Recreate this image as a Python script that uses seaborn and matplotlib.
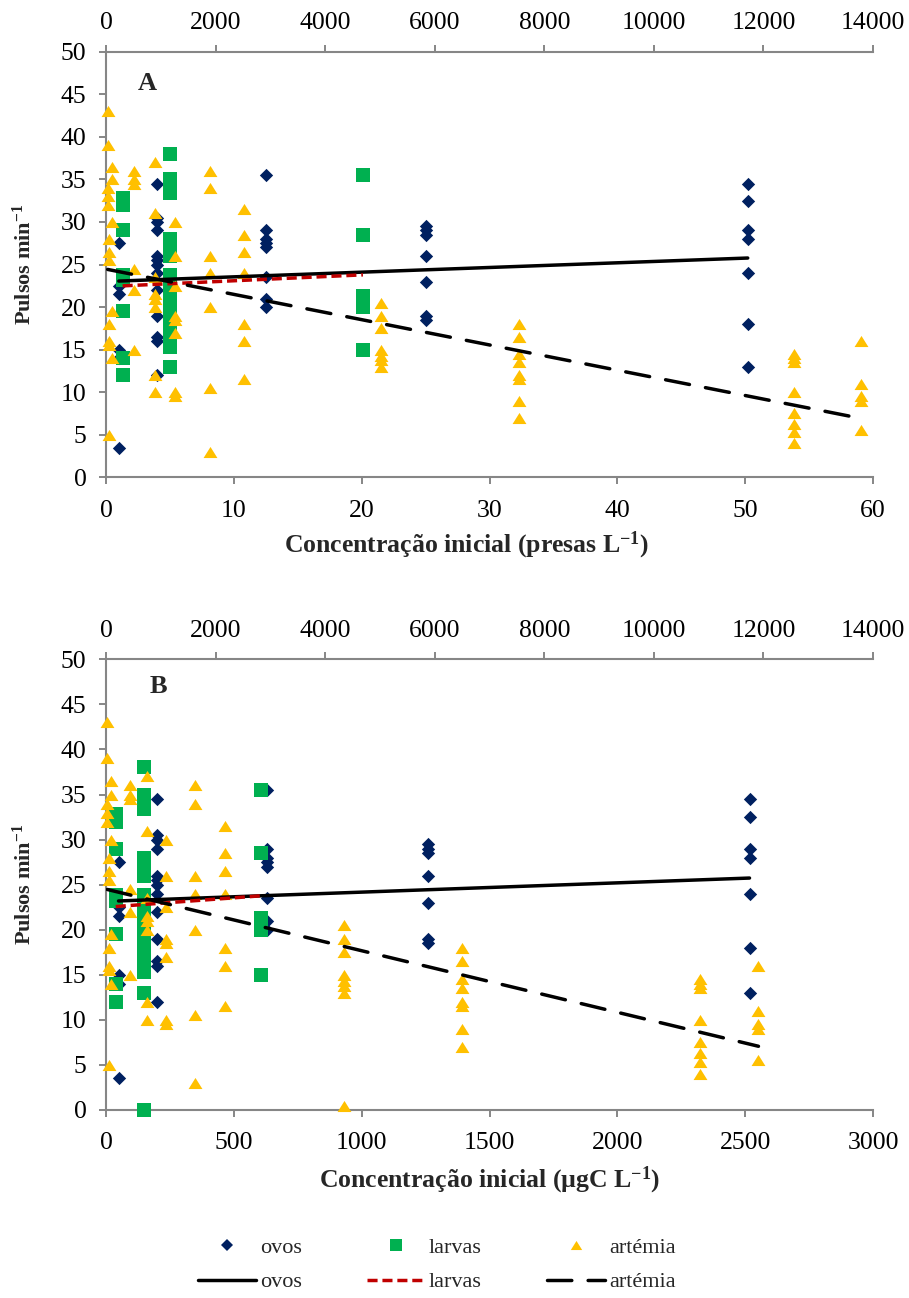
import numpy as np
import pandas as pd
import matplotlib
matplotlib.use("Agg")
import matplotlib.pyplot as plt
from matplotlib.lines import Line2D
import seaborn as sns

# ---------------------------------------------------------------- data
# Initial concentration levels: panel A in presas L-1, panel B in µgC L-1.
# Each level has a list of measured pulse rates (pulsos min-1).
ovos_conc_A = [1.0, 4.0, 12.5, 25.0, 50.2]
ovos_conc_B = [49, 200, 628, 1260, 2517]
ovos_pulses = [
    [27.5, 22.5, 21.5, 15.0, 14.0, 3.5],
    [34.5, 30.5, 30.0, 29.0, 26.0, 25.5, 25.0, 24.0, 22.0, 19.0, 16.5, 16.0, 12.0],
    [35.5, 29.0, 28.0, 27.5, 27.0, 23.5, 21.0, 20.0],
    [29.5, 29.0, 28.5, 26.0, 23.0, 19.0, 18.5],
    [34.5, 32.5, 29.0, 28.0, 24.0, 18.0, 13.0],
]

larvas_conc_A = [1.3, 5.0, 20.1]
larvas_conc_B = [38, 150, 605]
larvas_pulses = [
    [32.8, 32.0, 29.0, 23.8, 23.2, 19.5, 14.0, 12.0],
    [38.0, 35.0, 34.2, 33.4, 28.0, 27.0, 26.0, 23.8, 22.8, 21.8, 20.8,
     19.8, 18.8, 17.8, 16.8, 15.8, 15.3, 13.0],
    [35.5, 28.5, 21.3, 20.6, 20.0, 15.0],
]
larvas_extra_B_conc = [150]
larvas_extra_B_pulses = [0.0]

artemia_conc_A = [0.13, 0.47, 0.25, 2.2, 3.8, 5.4, 8.1, 10.8, 21.5, 32.3, 53.8, 59.1]
artemia_conc_B = [5, 18, 10, 92, 160, 233, 349, 465, 929, 1392, 2322, 2552]
artemia_pulses = [
    [43.0, 39.0, 34.0, 33.0, 32.0],
    [36.5, 35.0, 30.0, 19.5, 14.0],
    [28.0, 26.5, 25.5, 18.0, 16.0, 15.5, 5.0],
    [36.0, 35.0, 34.5, 24.5, 22.0, 15.0],
    [37.0, 31.0, 23.5, 21.5, 21.0, 20.0, 12.0, 10.0],
    [30.0, 26.0, 22.5, 19.0, 18.5, 17.0, 10.0, 9.5],
    [36.0, 34.0, 26.0, 24.0, 20.0, 10.5, 3.0],
    [31.5, 28.5, 26.5, 24.0, 18.0, 16.0, 11.5],
    [20.5, 19.0, 17.5, 15.0, 14.3, 13.8, 13.0],
    [18.0, 16.5, 14.5, 13.5, 12.0, 11.5, 9.0, 7.0],
    [14.5, 14.0, 13.5, 10.0, 7.5, 6.3, 5.3, 4.0],
    [16.0, 11.0, 9.5, 9.0, 5.5],
]
artemia_extra_B_conc = [929]
artemia_extra_B_pulses = [0.4]

# Linear trend lines (intercept, slope) per prey type
trend_A = {"ovos": (23.0, 0.055), "larvas": (22.4, 0.069), "artémia": (24.46, -0.297)}
trend_B = {"ovos": (23.14, 0.00103), "larvas": (22.49, 0.0021), "artémia": (24.5, -0.00683)}

top_ticks = list(range(0, 14001, 2000))
y_ticks = list(range(0, 51, 5))
xticks_A = list(range(0, 61, 10))
xticks_B = list(range(0, 3001, 500))


def expand(conc, pulses, extra_conc=(), extra_pulses=()):
    xs, ys = [], []
    for c, vals in zip(conc, pulses):
        xs += [c] * len(vals)
        ys += list(vals)
    xs += list(extra_conc)
    ys += list(extra_pulses)
    return xs, ys


frames = []
for panel, oc, lc, ac, lx, ax_ in [
    ("A", ovos_conc_A, larvas_conc_A, artemia_conc_A, ([], []), ([], [])),
    ("B", ovos_conc_B, larvas_conc_B, artemia_conc_B,
     (larvas_extra_B_conc, larvas_extra_B_pulses),
     (artemia_extra_B_conc, artemia_extra_B_pulses)),
]:
    for name, conc, pulses, extra in [("ovos", oc, ovos_pulses, ([], [])),
                                      ("larvas", lc, larvas_pulses, lx),
                                      ("artémia", ac, artemia_pulses, ax_)]:
        xs, ys = expand(conc, pulses, *extra)
        frames.append(pd.DataFrame({"panel": panel, "presa": name,
                                    "conc": xs, "pulsos": ys}))
df = pd.concat(frames, ignore_index=True)

# ---------------------------------------------------------------- style
sns.set_theme(style="white")
plt.rcParams["font.family"] = ["Liberation Serif", "DejaVu Serif"]
plt.rcParams["mathtext.fontset"] = "custom"
plt.rcParams["mathtext.rm"] = "Liberation Serif"
plt.rcParams["mathtext.bf"] = "Liberation Serif:bold"
plt.rcParams["mathtext.it"] = "Liberation Serif:italic"

C_OVOS = "#002060"
C_LARVAS = "#00B050"
C_ART = "#FFC000"
C_RED = "#C00000"
GRAY = "#868686"
TRI = [(0, 0.8), (-1, -0.8), (1, -0.8)]

markers = {"ovos": ("D", C_OVOS, 46), "larvas": ("s", C_LARVAS, 95),
           "artémia": (TRI, C_ART, 100)}
line_styles = {"ovos": ("black", "-", "butt"),
               "larvas": (C_RED, (0, (2.9, 1.4)), "butt"),
               "artémia": ("black", (0, (7.0, 4.7)), "round")}

fig = plt.figure(figsize=(9.09, 12.98), dpi=100)
W, H = 909, 1298
axA = fig.add_axes([106 / W, 1 - 477.3 / H, 767 / W, (477.3 - 51.7) / H])
axB = fig.add_axes([106 / W, 1 - 1110 / H, 767 / W, (1110 - 659.3) / H])


def style_axes(ax, xmax, xticks):
    ax.set_xlim(0, xmax)
    ax.set_ylim(0, 50)
    ax.set_xticks(xticks)
    ax.set_yticks(y_ticks)
    ax.set_xlabel("")
    ax.set_ylabel("")
    ax.spines["right"].set_visible(False)
    ax.spines["top"].set_visible(False)
    for s in ("left", "bottom"):
        ax.spines[s].set_color(GRAY)
        ax.spines[s].set_linewidth(1.5)
    ax.tick_params(axis="both", which="major", direction="out", length=5,
                   width=1.4, color=GRAY, labelsize=18.5, labelcolor="black",
                   left=True, bottom=True)
    ax.tick_params(axis="y", pad=9)
    ax.tick_params(axis="x", pad=11)
    top = ax.twiny()
    top.set_xlim(0, 14000)
    top.set_xticks(top_ticks)
    for s in ("left", "right", "bottom"):
        top.spines[s].set_visible(False)
    top.spines["top"].set_color(GRAY)
    top.spines["top"].set_linewidth(1.5)
    top.tick_params(axis="x", direction="out", length=5, width=1.4, color=GRAY,
                    labelsize=18.5, labelcolor="black", pad=7.5, top=True)
    top.grid(False)
    ax.grid(False)


for ax, panel, trend in [(axA, "A", trend_A), (axB, "B", trend_B)]:
    sub = df[df.panel == panel]
    for name in ["ovos", "larvas", "artémia"]:
        d = sub[sub.presa == name]
        mk, col, size = markers[name]
        sns.scatterplot(data=d, x="conc", y="pulsos", marker=mk, color=col,
                        s=size, linewidth=0, ax=ax, legend=False,
                        clip_on=False, zorder=3)
    for name in ["ovos", "larvas", "artémia"]:
        d = sub[sub.presa == name]
        b0, b1 = trend[name]
        xs = np.array([d.conc.min(), d.conc.max()])
        col, ls, cap = line_styles[name]
        sns.lineplot(x=xs, y=b0 + b1 * xs, ax=ax, color=col, linewidth=2.5,
                     linestyle=ls, dash_capstyle=cap, legend=False, zorder=5)

style_axes(axA, 60, xticks_A)
style_axes(axB, 3000, xticks_B)

axA.text(0.054, 0.925, "A", transform=axA.transAxes, ha="center", va="center",
         fontsize=19, fontweight="bold")
axB.text(0.068, 0.939, "B", transform=axB.transAxes, ha="center", va="center",
         fontsize=19, fontweight="bold")

ylab = r"Pulsos min$^{\mathbf{-1}}$"
fig.text(24 / W, 1 - 264.5 / H, ylab, rotation=90, ha="center", va="center",
         fontsize=16, fontweight="bold")
fig.text(24 / W, 1 - 884.7 / H, ylab, rotation=90, ha="center", va="center",
         fontsize=16, fontweight="bold")
fig.text(466 / W, 1 - 545 / H, r"Concentração inicial (presas L$^{\mathbf{-1}}$)",
         ha="center", va="center", fontsize=18.5, fontweight="bold")
fig.text(489.5 / W, 1 - 1180 / H, r"Concentração inicial (µgC L$^{\mathbf{-1}}$)",
         ha="center", va="center", fontsize=18.5, fontweight="bold")

# ---------------------------------------------------------------- legend
handles = [
    Line2D([], [], ls="none", marker="D", ms=6.0, mfc=C_OVOS, mec=C_OVOS, mew=0),
    Line2D([], [], color="black", lw=2.5),
    Line2D([], [], ls="none", marker="s", ms=8.6, mfc=C_LARVAS, mec=C_LARVAS, mew=0),
    Line2D([], [], color=C_RED, lw=2.5, ls=(0, (2.9, 1.4))),
    Line2D([], [], ls="none", marker=TRI, ms=8.2, mfc=C_ART, mec=C_ART, mew=0),
    Line2D([], [], color="black", lw=2.5, ls=(0, (7.0, 4.7)), dash_capstyle="round"),
]
labels = ["ovos", "ovos", "larvas", "larvas", "artémia", "artémia"]
fig.legend(handles, labels, ncol=3, loc="center",
           bbox_to_anchor=(437 / W, 1 - 1265 / H), frameon=False, fontsize=16,
           handlelength=2.57, handletextpad=0.2, columnspacing=2.95,
           labelspacing=0.62, borderpad=0, borderaxespad=0)

fig.savefig("out.png", dpi=100)
